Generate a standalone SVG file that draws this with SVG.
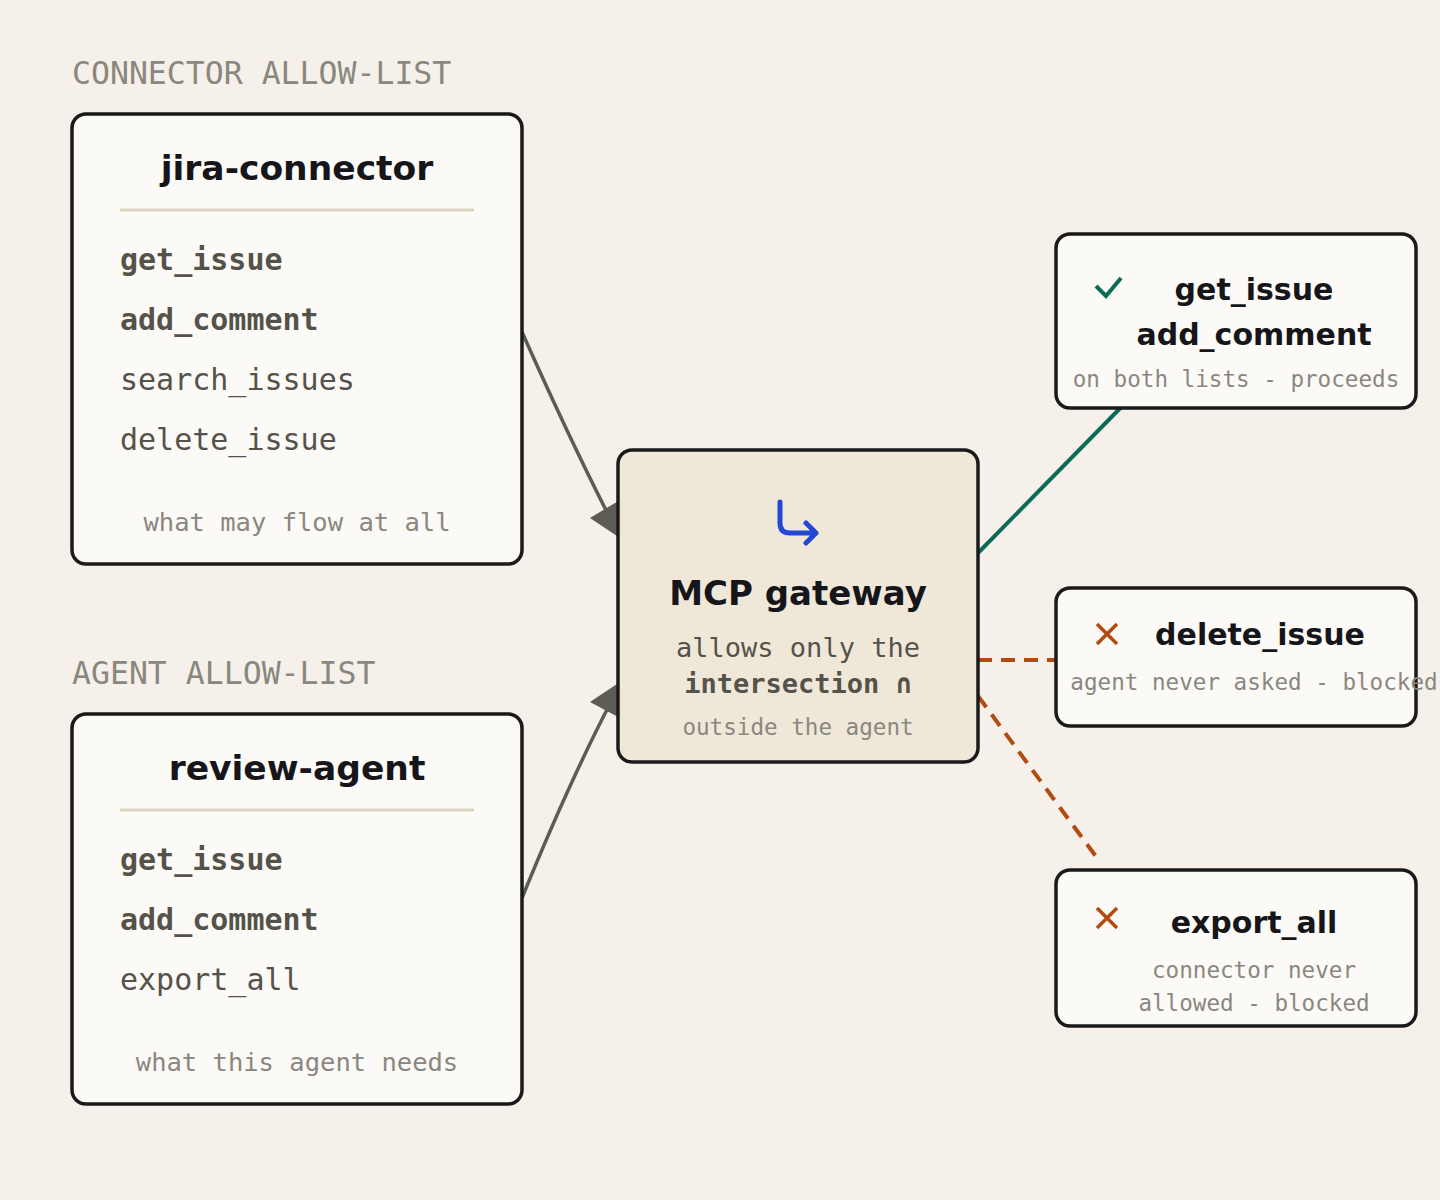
<svg xmlns="http://www.w3.org/2000/svg" width="1440" height="1200" viewBox="0 0 1440 1200">
<style>
.box{fill:#fbfaf6;stroke:#1a1a1a;stroke-width:3.5}
.title{font-family:"DejaVu Sans",sans-serif;font-weight:bold;fill:#16161a;text-anchor:middle}
.mono{font-family:"DejaVu Sans Mono",monospace}
.item{font-size:30px;fill:#55524a}
.b{font-weight:bold}
.note{fill:#8a877e;text-anchor:middle}
.sec{font-family:"DejaVu Sans Mono",monospace;font-size:31.5px;fill:#8a877e}
</style>
<rect width="1440" height="1200" fill="#f5f1ea"/>
<text class="sec" x="72" y="84">CONNECTOR ALLOW-LIST</text>
<text class="sec" x="72" y="684">AGENT ALLOW-LIST</text>
<g id="connectors" fill="none">
<path d="M522,332 Q570,440 612,522" stroke="#5c5b54" stroke-width="3.5"/>
<path d="M590,518 L620,500 L620,538 Z" fill="#5c5b54"/>
<path d="M522,898 Q570,780 612,700" stroke="#5c5b54" stroke-width="3.5"/>
<path d="M590,702 L620,682 L620,718 Z" fill="#5c5b54"/>
<path d="M978,553 L1140,388" stroke="#0b6b55" stroke-width="4"/>
<path d="M978,660 L1056,660" stroke="#b34a10" stroke-width="4" stroke-dasharray="14,9"/>
<path d="M978,696 L1100,862" stroke="#b34a10" stroke-width="4" stroke-dasharray="14,9"/>
</g>
<g id="jira">
<rect class="box" x="72" y="114" width="450" height="450" rx="14"/>
<text class="title" x="297" y="180" font-size="34.5">jira-connector</text>
<line x1="120" y1="210" x2="474" y2="210" stroke="#ddd5c3" stroke-width="3"/>
<text class="mono item b" x="120" y="270">get_issue</text>
<text class="mono item b" x="120" y="330">add_comment</text>
<text class="mono item" x="120" y="390">search_issues</text>
<text class="mono item" x="120" y="450">delete_issue</text>
<text class="mono note" x="297" y="531" font-size="25.5">what may flow at all</text>
</g>
<g id="agent">
<rect class="box" x="72" y="714" width="450" height="390" rx="14"/>
<text class="title" x="297" y="780" font-size="34.5">review-agent</text>
<line x1="120" y1="810" x2="474" y2="810" stroke="#ddd5c3" stroke-width="3"/>
<text class="mono item b" x="120" y="870">get_issue</text>
<text class="mono item b" x="120" y="930">add_comment</text>
<text class="mono item" x="120" y="990">export_all</text>
<text class="mono note" x="297" y="1071" font-size="25.5">what this agent needs</text>
</g>
<g id="gateway">
<rect x="618" y="450" width="360" height="312" rx="14" fill="#efe8d9" stroke="#1a1a1a" stroke-width="3.5"/>
<path d="M780,502 V523 Q780,533 790,533 H816 M806,523 L816,533 L806,543" fill="none" stroke="#2447d6" stroke-width="5" stroke-linecap="round" stroke-linejoin="round"/>
<text class="title" x="798" y="605" font-size="34">MCP gateway</text>
<text class="mono" x="798" y="657" font-size="27" fill="#55524a" text-anchor="middle">allows only the</text>
<text class="mono b" x="798" y="693" font-size="27" fill="#55524a" text-anchor="middle">intersection ∩</text>
<text class="mono note" x="798" y="735" font-size="22.6">outside the agent</text>
</g>
<g id="ok">
<rect class="box" x="1056" y="234" width="360" height="174" rx="14"/>
<path d="M1096,286 L1106,296 L1121,278" fill="none" stroke="#0b6b55" stroke-width="4"/>
<text class="title" x="1254" y="300" font-size="30">get_issue</text>
<text class="title" x="1254" y="345" font-size="30">add_comment</text>
<text class="mono note" x="1236" y="387" font-size="22.6">on both lists - proceeds</text>
</g>
<g id="del">
<rect class="box" x="1056" y="588" width="360" height="138" rx="14"/>
<path d="M1097,624 L1117,644 M1117,624 L1097,644" stroke="#b34a10" stroke-width="3.5"/>
<text class="title" x="1260" y="645" font-size="30">delete_issue</text>
<text class="mono note" x="1254" y="690" font-size="22.6">agent never asked - blocked</text>
</g>
<g id="exp">
<rect class="box" x="1056" y="870" width="360" height="156" rx="14"/>
<path d="M1097,908 L1117,928 M1117,908 L1097,928" stroke="#b34a10" stroke-width="3.5"/>
<text class="title" x="1254" y="933" font-size="30">export_all</text>
<text class="mono note" x="1254" y="978" font-size="22.6">connector never</text>
<text class="mono note" x="1254" y="1011" font-size="22.6">allowed - blocked</text>
</g>
</svg>
